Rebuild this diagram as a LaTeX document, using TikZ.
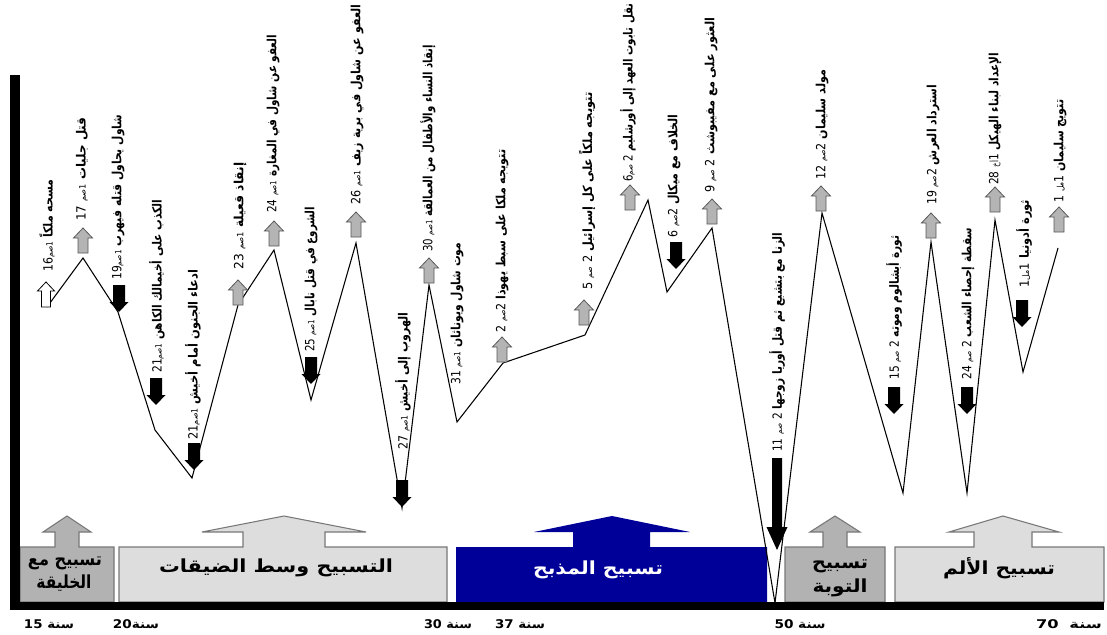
\documentclass[tikz,border=0pt]{standalone}
\usepackage{fontspec}
\usepackage{graphicx}
\TeXXeTstate=1
\newfontfamily\ar[Script=Arabic]{DejaVu Sans}
\newdimen\pxu \pxu=0.75pt
\newsavebox\labbox
\newcommand\lab[2]{\sbox\labbox{#2}\resizebox{#1\pxu}{\ht\labbox}{\usebox\labbox}}
\newcommand\rf[1]{{\mdseries\fontsize{6.5}{7}\selectfont #1}}
\newcommand\nm[1]{{\mdseries #1}}
\definecolor{navy}{RGB}{0,0,153}
\definecolor{dgray}{RGB}{178,178,178}
\definecolor{lgray}{RGB}{221,221,221}
\definecolor{edge}{RGB}{120,120,120}
\definecolor{agray}{RGB}{180,180,180}
\tikzset{
 zig/.style={line width=0.8pt, black, line join=miter},
 lbl/.style={rotate=90, anchor=west, inner sep=0pt, font=\ar\bfseries\fontsize{9.5}{11}\selectfont},
 boxdark/.style={fill=dgray, draw=edge, line width=0.8pt},
 boxlight/.style={fill=lgray, draw=edge, line width=0.8pt},
 boxblue/.style={fill=navy, draw=none},
 btxt/.style={inner sep=0pt, font=\ar\bfseries\fontsize{13.5}{15}\selectfont},
 ytxt/.style={inner sep=0pt, font=\ar\bfseries\fontsize{9}{10}\selectfont},
 garr/.pic={\filldraw[fill=agray, draw=black!65, line width=0.6pt] (0,0) -- (9.5,10) -- (5,10) -- (5,25) -- (-5,25) -- (-5,10) -- (-9.5,10) -- cycle;},
 warr/.pic={\filldraw[fill=white, draw=black, line width=0.6pt] (0,0) -- (8.5,9) -- (4.5,9) -- (4.5,25) -- (-4.5,25) -- (-4.5,9) -- (-8.5,9) -- cycle;},
 barr/.pic={\fill[black] (-6,0) -- (6,0) -- (6,17) -- (9.5,17) -- (0,27) -- (-9.5,17) -- (-6,17) -- cycle;},
}
\begin{document}
\begin{tikzpicture}[x=0.75pt,y=-0.75pt]
\path[use as bounding box, fill=white] (0,0) rectangle (1107,635);
% bottom boxes with up-arrows
\filldraw[boxdark] (20,602) -- (20,547) -- (55,547) -- (55,532) -- (43,532) -- (67,516) -- (91,532) -- (79,532) -- (79,547) -- (114,547) -- (114,602) -- cycle;
\filldraw[boxlight] (119,602) -- (119,547) -- (243,547) -- (243,532) -- (202,532) -- (284,516) -- (366,532) -- (325,532) -- (325,547) -- (447,547) -- (447,602) -- cycle;
\filldraw[boxblue] (456,602) -- (456,547) -- (573,547) -- (573,532) -- (534,532) -- (612,516) -- (690,532) -- (650,532) -- (650,547) -- (767,547) -- (767,602) -- cycle;
\filldraw[boxdark] (785,602) -- (785,547) -- (823,547) -- (823,532) -- (810,532) -- (835,516) -- (860,532) -- (847,532) -- (847,547) -- (885,547) -- (885,602) -- cycle;
\filldraw[boxlight] (895,602) -- (895,547) -- (974,547) -- (974,532) -- (949,532) -- (1003,516) -- (1059,532) -- (1032,532) -- (1032,547) -- (1104,547) -- (1104,602) -- cycle;
% box texts
\node[btxt] (t1a) at (65,563) {\lab{74}{\beginR تسبيح مع\endR}};
\node[btxt] (t1b) at (64,583) {\lab{55}{\beginR الخليقة\endR}};
\node[btxt] (t2) at (276,568) {\lab{234}{\beginR التسبيح وسط الضيقات\endR}};
\node[btxt,text=white] (t3) at (598,570) {\lab{130}{\beginR تسبيح المذبح\endR}};
\node[btxt] (t4a) at (840,566) {\lab{56}{\beginR تسبيح\endR}};
\node[btxt] (t4b) at (840,588) {\lab{55}{\beginR التوبة\endR}};
\node[btxt] (t5) at (999,568) {\lab{112}{\beginR تسبيح الألم\endR}};
% zigzag
\coordinate (v1) at (47,307);
\coordinate (v2) at (83,258);
\coordinate (v3) at (118,312);
\coordinate (v4) at (155,430);
\coordinate (v5) at (192,478);
\coordinate (v6) at (238,305);
\coordinate (v7) at (274,250);
\coordinate (v8) at (311,400);
\coordinate (v9) at (356,243);
\coordinate (v10) at (402,508);
\coordinate (v11) at (429,285);
\coordinate (v12) at (457,422);
\coordinate (v13) at (503,363);
\coordinate (v14) at (585,335);
\coordinate (v15) at (648,200);
\coordinate (v16) at (667,292);
\coordinate (v17) at (712,228);
\coordinate (v18) at (775,603);
\coordinate (v19) at (822,213);
\coordinate (v20) at (903,493);
\coordinate (v21) at (931,242);
\coordinate (v22) at (967,493);
\coordinate (v23) at (995,220);
\coordinate (v24) at (1023,372);
\coordinate (v25) at (1058,248);
\draw[zig] (v1) -- (v2) -- (v3) -- (v4) -- (v5) -- (v6) -- (v7) -- (v8) -- (v9) -- (v10) -- (v11) -- (v12) -- (v13) -- (v14) -- (v15) -- (v16) -- (v17) -- (v18) -- (v19) -- (v20) -- (v21) -- (v22) -- (v23) -- (v24) -- (v25);
% axes
\fill[black] (10,75) rectangle (20,610);
\fill[black] (10,602) rectangle (1104,610);
% small arrows
\pic (a16) at (46,282) {warr};
\pic (a17) at (83,228) {garr};
\pic (a19) at (119,285) {barr};
\pic (a21a) at (156,378) {barr};
\pic (a21b) at (194,443) {barr};
\pic (a23) at (238,280) {garr};
\pic (a24) at (274,221) {garr};
\pic (a25) at (311,357) {barr};
\pic (a26) at (356,212) {garr};
\pic (a27) at (402,480) {barr};
\pic (a30) at (429,258) {garr};
\pic (a2) at (502,337) {garr};
\pic (a5) at (584,300) {garr};
\pic (a6) at (630,185) {garr};
\pic (a6b) at (676,242) {barr};
\pic (a9) at (712,199) {garr};
\pic (a12) at (821,186) {garr};
\pic (a15) at (894,387) {barr};
\pic (a19b) at (931,213) {garr};
\pic (a24b) at (967,387) {barr};
\pic (a28) at (995,187) {garr};
\pic (a1b) at (1022,300) {barr};
\pic (a1) at (1059,207) {garr};
\fill[black] (772,458) -- (782,458) -- (782,527) -- (787.5,527) -- (777,550) -- (766.5,527) -- (772,527) -- cycle;
% event labels
\node[lbl] (l16) at (47,272) {\lab{92}{\beginR مسحه ملكاً \rf{1}\rf{صم}\nm{16}\endR}};
\node[lbl] (l17) at (82,221) {\lab{103}{\beginR قتل جليات \rf{1}\rf{صم} \nm{17}\endR}};
\node[lbl] (l19) at (118,280) {\lab{165}{\beginR شاول يحاول قتله فيهرب \rf{1}\rf{صم}\nm{19}\endR}};
\node[lbl] (l21a) at (157,373) {\lab{173}{\beginR الكذب على أخيمالك الكاهن \rf{1}\rf{صم}\nm{21}\endR}};
\node[lbl] (l21b) at (193,440) {\lab{170}{\beginR ادعاء الجنون أمام أخيش \rf{1}\rf{صم}\nm{21}\endR}};
\node[lbl] (l23) at (240,270) {\lab{107}{\beginR إنقاذ قعيلة \rf{1}\rf{صم} \nm{23}\endR}};
\node[lbl] (l24) at (273,213) {\lab{178}{\beginR العفو عن شاول في المغارة \rf{1}\rf{صم} \nm{24}\endR}};
\node[lbl] (l25) at (311,352) {\lab{145}{\beginR الشروع في قتل نابال \rf{1}\rf{صم} \nm{25}\endR}};
\node[lbl] (l26) at (357,205) {\lab{200}{\beginR العفو عن شاول في برية زيف \rf{1}\rf{صم} \nm{26}\endR}};
\node[lbl] (l27) at (403,450) {\lab{137}{\beginR الهروب إلى أخيش \rf{1}\rf{صم} \nm{27}\endR}};
\node[lbl] (l30) at (428,252) {\lab{207}{\beginR إنقاذ النساء والأطفال من العمالقة \rf{1}\rf{صم} \nm{30}\endR}};
\node[lbl] (l31) at (457,385) {\lab{142}{\beginR موت شاول ويوناثان \rf{1}\rf{صم} \nm{31}\endR}};
\node[lbl] (l2) at (502,333) {\lab{183}{\beginR تتويجه ملكا على سبط يهوذا \nm{2}\rf{صم} \nm{2}\endR}};
\node[lbl] (l5) at (587,290) {\lab{197}{\beginR تتويجه ملكاً على كل إسرائيل \nm{2} \rf{صم} \nm{5}\endR}};
\node[lbl] (l6) at (628,182) {\lab{178}{\beginR نقل تابوت العهد إلى أورشليم \nm{2} \rf{صم}\nm{6}\endR}};
\node[lbl] (l6b) at (674,238) {\lab{123}{\beginR الخلاف مع ميكال \nm{2}\rf{صم} \nm{6}\endR}};
\node[lbl] (l9) at (711,193) {\lab{175}{\beginR العثور على مع مفيبوشث \nm{2} \rf{صم} \nm{9}\endR}};
\node[lbl] (l11) at (777,452) {\lab{219}{\beginR الزنا مع بتشبع ثم قتل أوريا زوجها \nm{2} \rf{صم} \nm{11}\endR}};
\node[lbl] (l12) at (822,180) {\lab{110}{\beginR مولد سليمان \nm{2}\rf{صم} \nm{12}\endR}};
\node[lbl] (l15) at (894,380) {\lab{144}{\beginR ثورة أبشالوم وموته \nm{2} \rf{صم} \nm{15}\endR}};
\node[lbl] (l19b) at (933,205) {\lab{120}{\beginR استرداد العرش \nm{2}\rf{صم} \nm{19}\endR}};
\node[lbl] (l24b) at (968,380) {\lab{152}{\beginR سقطة إحصاء الشعب \nm{2} \rf{صم} \nm{24}\endR}};
\node[lbl] (l28) at (995,185) {\lab{132}{\beginR الإعداد لبناء الهيكل \nm{1}\rf{أخ} \nm{28}\endR}};
\node[lbl] (l1b) at (1024,288) {\lab{88}{\beginR ثورة أدونيا \nm{1}\rf{مل}\nm{1}\endR}};
\node[lbl] (l1) at (1060,203) {\lab{103}{\beginR تتويج سليمان \nm{1}\rf{مل} \nm{1}\endR}};
% year labels
\node[ytxt] (y15) at (49,624) {\lab{50}{\beginR سنة 15\endR}};
\node[ytxt] (y20) at (136,624) {\lab{46}{\beginR سنة\kern0pt 20\endR}};
\node[ytxt] (y30) at (448,624) {\lab{48}{\beginR سنة 30\endR}};
\node[ytxt] (y37) at (520,624) {\lab{50}{\beginR سنة 37\endR}};
\node[ytxt] (y50) at (800,624) {\lab{51}{\beginR سنة 50\endR}};
\node[ytxt] (y70) at (1069,624) {\lab{66}{\beginR سنة\hspace{6pt}70\endR}};
\end{tikzpicture}
\end{document}
